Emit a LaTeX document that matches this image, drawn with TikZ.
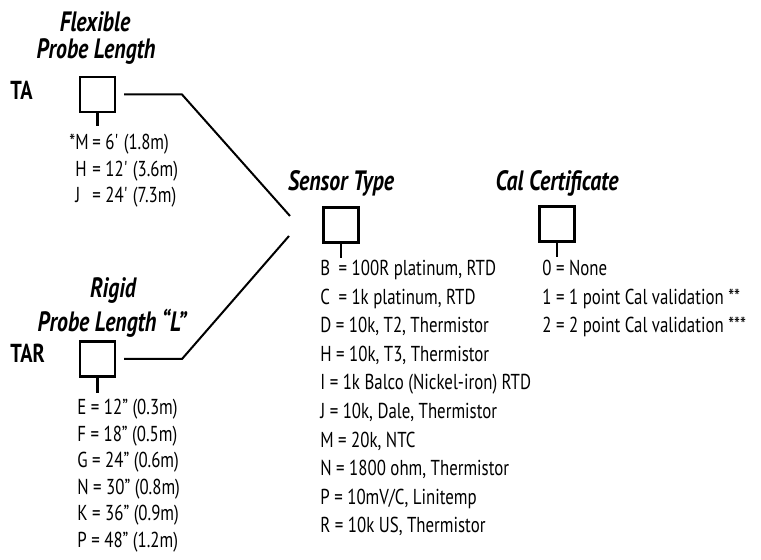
\documentclass[tikz,border=0pt]{standalone}
\usepackage{fontspec}
\setmainfont[FakeStretch=0.78]{PT Sans}
\usepackage{tikz}
\usetikzlibrary{positioning}
\tikzset{
  codebox/.style={draw,line width=1.25pt,minimum size=17.3pt,inner sep=0pt},
  hdr/.style={font=\fontsize{14}{16}\selectfont\bfseries\itshape,anchor=base,inner sep=0pt},
  series/.style={font=\fontsize{13}{15}\selectfont\bfseries,anchor=base west,inner sep=0pt},
  opt/.style={font=\fontsize{10.8}{12}\selectfont,anchor=base west,inner sep=0pt},
  wire/.style={line width=1pt,shorten <=4pt},
  tick/.style={line width=1.1pt},
}
\newcommand{\lenopt}[2]{\makebox[8.5pt][l]{#1}= #2}

\begin{document}
\begin{tikzpicture}[x=0.5pt,y=-0.5pt]
  \useasboundingbox (0,0) rectangle (761,560);
  % flexible probe
  \node[hdr] (flexA) at (95,32) {Flexible};
  \node[hdr] (flexB) at (96,59) {Probe Length};
  \node[series] (ta) at (10,100) {TA};
  \node[codebox] (taBox) at (97.5,94.5) {};
  \draw[tick] (taBox.south) -- ++(0,13);
  \foreach \y/\k/\txt [count=\i] in {150/{\llap{*}M}/{6\textquotesingle\ (1.8m)},177/H/{12\textquotesingle\ (3.6m)},203/J/{24\textquotesingle\ (7.3m)}}
    \node[opt] (ta\i) at (75,\y) {\lenopt{\k}{\txt}};
  % rigid probe
  \node[hdr] (rigA) at (113,298) {Rigid};
  \node[hdr] (rigB) at (112,332) {Probe Length ``L''};
  \node[series] (tar) at (10,363) {TAR};
  \node[codebox] (tarBox) at (97.5,359) {};
  \draw[tick] (tarBox.south) -- ++(0,15);
  \foreach \y/\txt [count=\i] in {415/{E = 12'' (0.3m)},441.5/{F = 18'' (0.5m)},468/{G = 24'' (0.6m)},494.5/{N = 30'' (0.8m)},521/{K = 36'' (0.9m)},548/{P = 48'' (1.2m)}}
    \node[opt] (tar\i) at (77,\y) {\txt};
  % sensor type
  \node[hdr] (sensHdr) at (341,191) {Sensor Type};
  \node[codebox] (sensBox) at (341,225) {};
  \draw[tick] (sensBox.south) -- ++(0,14);
  \foreach \y/\txt [count=\i] in {276/{B\hspace{2pt} = 100R platinum, RTD},304.5/{C\hspace{2pt} = 1k platinum, RTD},333/{D = 10k, T2, Thermistor},361.5/{H = 10k, T3, Thermistor},390/{I = 1k Balco (Nickel-iron) RTD},419/{J = 10k, Dale, Thermistor},447.5/{M = 20k, NTC},476/{N = 1800 ohm, Thermistor},505/{P = 10mV/C, Linitemp},533/{R = 10k US, Thermistor}}
    \node[opt] (sens\i) at (320,\y) {\txt};
  % cal certificate
  \node[hdr] (calHdr) at (557,191) {Cal Certificate};
  \node[codebox] (calBox) at (557,224) {};
  \draw[tick] (calBox.south) -- ++(0,14);
  \foreach \y/\txt [count=\i] in {276/{0 = None},304.5/{1 = 1 point Cal validation **},333/{2 = 2 point Cal validation ***}}
    \node[opt] (cal\i) at (542,\y) {\txt};
  % connectors
  \coordinate (bendTA) at (182,94.5);
  \coordinate (endTA) at (290,216);
  \coordinate (bendTAR) at (182,359);
  \coordinate (endTAR) at (289,236);
  \draw[wire] (taBox.east) -- (bendTA) -- (endTA);
  \draw[wire] (tarBox.east) -- (bendTAR) -- (endTAR);
\end{tikzpicture}
\end{document}
